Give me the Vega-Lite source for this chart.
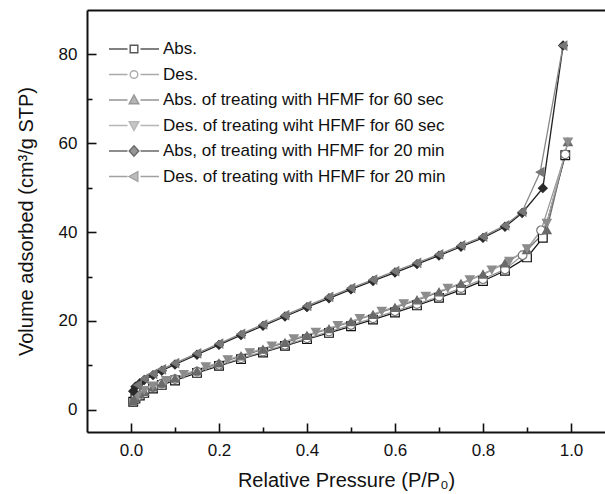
{
  "$schema": "https://vega.github.io/schema/vega-lite/v6.json",
  "width": 518,
  "height": 422,
  "autosize": {"type": "none"},
  "padding": {"left": 87, "top": 10, "right": 0, "bottom": 62},
  "config": {
    "view": {"stroke": null},
    "font": "Liberation Sans",
    "axis": {"domainColor": "#111", "domainWidth": 2, "tickColor": "#111", "tickWidth": 1.6, "labelColor": "#111", "titleColor": "#111", "labelFontSize": 17, "titleFontSize": 20, "titleFontWeight": "normal", "grid": false},
    "legend": {"labelFontSize": 17, "labelColor": "#111", "padding": 0, "labelOffset": 18, "rowPadding": 6.5, "labelLimit": 400}
  },
  "data": {"values": [
    {"s":"Abs.","p":0.005,"v":1.8},{"s":"Abs.","p":0.01,"v":2.5},{"s":"Abs.","p":0.02,"v":3.2},{"s":"Abs.","p":0.03,"v":3.8},{"s":"Abs.","p":0.05,"v":4.8},{"s":"Abs.","p":0.07,"v":5.6},{"s":"Abs.","p":0.1,"v":6.6},{"s":"Abs.","p":0.15,"v":8.3},{"s":"Abs.","p":0.2,"v":9.9},{"s":"Abs.","p":0.25,"v":11.4},{"s":"Abs.","p":0.3,"v":12.9},{"s":"Abs.","p":0.35,"v":14.4},{"s":"Abs.","p":0.4,"v":15.9},{"s":"Abs.","p":0.45,"v":17.3},{"s":"Abs.","p":0.5,"v":18.8},{"s":"Abs.","p":0.55,"v":20.3},{"s":"Abs.","p":0.6,"v":21.9},{"s":"Abs.","p":0.65,"v":23.5},{"s":"Abs.","p":0.7,"v":25.2},{"s":"Abs.","p":0.75,"v":27.0},{"s":"Abs.","p":0.8,"v":29.0},{"s":"Abs.","p":0.85,"v":31.3},{"s":"Abs.","p":0.9,"v":34.3},{"s":"Abs.","p":0.936,"v":38.7},{"s":"Abs.","p":0.987,"v":57.3},
    {"s":"Des.","p":0.987,"v":57.5},{"s":"Des.","p":0.932,"v":40.4},{"s":"Des.","p":0.89,"v":34.8},{"s":"Des.","p":0.85,"v":31.6},{"s":"Des.","p":0.8,"v":29.4},{"s":"Des.","p":0.75,"v":27.4},{"s":"Des.","p":0.7,"v":25.5},{"s":"Des.","p":0.65,"v":23.8},{"s":"Des.","p":0.6,"v":22.2},{"s":"Des.","p":0.55,"v":20.6},{"s":"Des.","p":0.5,"v":19.1},{"s":"Des.","p":0.45,"v":17.6},{"s":"Des.","p":0.4,"v":16.1},{"s":"Des.","p":0.35,"v":14.6},{"s":"Des.","p":0.3,"v":13.1},{"s":"Des.","p":0.25,"v":11.6},{"s":"Des.","p":0.2,"v":10.1},{"s":"Des.","p":0.15,"v":8.6},{"s":"Des.","p":0.1,"v":6.9},{"s":"Des.","p":0.07,"v":5.9},{"s":"Des.","p":0.05,"v":5.1},{"s":"Des.","p":0.03,"v":4.2},{"s":"Des.","p":0.015,"v":3.0},
    {"s":"Abs. of treating with HFMF for 60 sec","p":0.005,"v":2.0},{"s":"Abs. of treating with HFMF for 60 sec","p":0.01,"v":2.7},{"s":"Abs. of treating with HFMF for 60 sec","p":0.02,"v":3.5},{"s":"Abs. of treating with HFMF for 60 sec","p":0.03,"v":4.1},{"s":"Abs. of treating with HFMF for 60 sec","p":0.05,"v":5.1},{"s":"Abs. of treating with HFMF for 60 sec","p":0.07,"v":6.0},{"s":"Abs. of treating with HFMF for 60 sec","p":0.1,"v":7.1},{"s":"Abs. of treating with HFMF for 60 sec","p":0.15,"v":8.8},{"s":"Abs. of treating with HFMF for 60 sec","p":0.2,"v":10.5},{"s":"Abs. of treating with HFMF for 60 sec","p":0.25,"v":12.1},{"s":"Abs. of treating with HFMF for 60 sec","p":0.3,"v":13.6},{"s":"Abs. of treating with HFMF for 60 sec","p":0.35,"v":15.1},{"s":"Abs. of treating with HFMF for 60 sec","p":0.4,"v":16.7},{"s":"Abs. of treating with HFMF for 60 sec","p":0.45,"v":18.2},{"s":"Abs. of treating with HFMF for 60 sec","p":0.5,"v":19.8},{"s":"Abs. of treating with HFMF for 60 sec","p":0.55,"v":21.4},{"s":"Abs. of treating with HFMF for 60 sec","p":0.6,"v":23.0},{"s":"Abs. of treating with HFMF for 60 sec","p":0.65,"v":24.7},{"s":"Abs. of treating with HFMF for 60 sec","p":0.7,"v":26.5},{"s":"Abs. of treating with HFMF for 60 sec","p":0.75,"v":28.4},{"s":"Abs. of treating with HFMF for 60 sec","p":0.8,"v":30.5},{"s":"Abs. of treating with HFMF for 60 sec","p":0.85,"v":33.0},{"s":"Abs. of treating with HFMF for 60 sec","p":0.9,"v":36.0},{"s":"Abs. of treating with HFMF for 60 sec","p":0.945,"v":40.5},{"s":"Abs. of treating with HFMF for 60 sec","p":0.993,"v":60.3},
    {"s":"Des. of treating wiht HFMF for 60 sec","p":0.993,"v":60.3},{"s":"Des. of treating wiht HFMF for 60 sec","p":0.945,"v":42.0},{"s":"Des. of treating wiht HFMF for 60 sec","p":0.9,"v":36.3},{"s":"Des. of treating wiht HFMF for 60 sec","p":0.86,"v":33.5},{"s":"Des. of treating wiht HFMF for 60 sec","p":0.82,"v":31.5},{"s":"Des. of treating wiht HFMF for 60 sec","p":0.77,"v":29.3},{"s":"Des. of treating wiht HFMF for 60 sec","p":0.72,"v":27.4},{"s":"Des. of treating wiht HFMF for 60 sec","p":0.67,"v":25.6},{"s":"Des. of treating wiht HFMF for 60 sec","p":0.62,"v":23.9},{"s":"Des. of treating wiht HFMF for 60 sec","p":0.57,"v":22.2},{"s":"Des. of treating wiht HFMF for 60 sec","p":0.52,"v":20.6},{"s":"Des. of treating wiht HFMF for 60 sec","p":0.47,"v":19.0},{"s":"Des. of treating wiht HFMF for 60 sec","p":0.42,"v":17.5},{"s":"Des. of treating wiht HFMF for 60 sec","p":0.37,"v":16.0},{"s":"Des. of treating wiht HFMF for 60 sec","p":0.32,"v":14.4},{"s":"Des. of treating wiht HFMF for 60 sec","p":0.27,"v":12.9},{"s":"Des. of treating wiht HFMF for 60 sec","p":0.22,"v":11.3},{"s":"Des. of treating wiht HFMF for 60 sec","p":0.17,"v":9.7},{"s":"Des. of treating wiht HFMF for 60 sec","p":0.12,"v":8.0},{"s":"Des. of treating wiht HFMF for 60 sec","p":0.08,"v":6.6},{"s":"Des. of treating wiht HFMF for 60 sec","p":0.05,"v":5.4},{"s":"Des. of treating wiht HFMF for 60 sec","p":0.03,"v":4.4},{"s":"Des. of treating wiht HFMF for 60 sec","p":0.015,"v":3.2},
    {"s":"Abs, of treating with HFMF for 20 min","p":0.005,"v":4.2},{"s":"Abs, of treating with HFMF for 20 min","p":0.01,"v":5.2},{"s":"Abs, of treating with HFMF for 20 min","p":0.02,"v":6.0},{"s":"Abs, of treating with HFMF for 20 min","p":0.03,"v":6.7},{"s":"Abs, of treating with HFMF for 20 min","p":0.05,"v":7.8},{"s":"Abs, of treating with HFMF for 20 min","p":0.07,"v":8.8},{"s":"Abs, of treating with HFMF for 20 min","p":0.1,"v":10.2},{"s":"Abs, of treating with HFMF for 20 min","p":0.15,"v":12.4},{"s":"Abs, of treating with HFMF for 20 min","p":0.2,"v":14.6},{"s":"Abs, of treating with HFMF for 20 min","p":0.25,"v":16.8},{"s":"Abs, of treating with HFMF for 20 min","p":0.3,"v":18.9},{"s":"Abs, of treating with HFMF for 20 min","p":0.35,"v":21.0},{"s":"Abs, of treating with HFMF for 20 min","p":0.4,"v":23.1},{"s":"Abs, of treating with HFMF for 20 min","p":0.45,"v":25.1},{"s":"Abs, of treating with HFMF for 20 min","p":0.5,"v":27.1},{"s":"Abs, of treating with HFMF for 20 min","p":0.55,"v":29.0},{"s":"Abs, of treating with HFMF for 20 min","p":0.6,"v":30.9},{"s":"Abs, of treating with HFMF for 20 min","p":0.65,"v":32.8},{"s":"Abs, of treating with HFMF for 20 min","p":0.7,"v":34.7},{"s":"Abs, of treating with HFMF for 20 min","p":0.75,"v":36.7},{"s":"Abs, of treating with HFMF for 20 min","p":0.8,"v":38.7},{"s":"Abs, of treating with HFMF for 20 min","p":0.85,"v":41.2},{"s":"Abs, of treating with HFMF for 20 min","p":0.889,"v":44.3},{"s":"Abs, of treating with HFMF for 20 min","p":0.936,"v":49.9},{"s":"Abs, of treating with HFMF for 20 min","p":0.982,"v":82},
    {"s":"Des. of treating with HFMF for 20 min","p":0.982,"v":82},{"s":"Des. of treating with HFMF for 20 min","p":0.93,"v":53.5},{"s":"Des. of treating with HFMF for 20 min","p":0.889,"v":44.6},{"s":"Des. of treating with HFMF for 20 min","p":0.85,"v":41.5},{"s":"Des. of treating with HFMF for 20 min","p":0.8,"v":39.0},{"s":"Des. of treating with HFMF for 20 min","p":0.75,"v":37.0},{"s":"Des. of treating with HFMF for 20 min","p":0.7,"v":35.0},{"s":"Des. of treating with HFMF for 20 min","p":0.65,"v":33.1},{"s":"Des. of treating with HFMF for 20 min","p":0.6,"v":31.2},{"s":"Des. of treating with HFMF for 20 min","p":0.55,"v":29.3},{"s":"Des. of treating with HFMF for 20 min","p":0.5,"v":27.4},{"s":"Des. of treating with HFMF for 20 min","p":0.45,"v":25.4},{"s":"Des. of treating with HFMF for 20 min","p":0.4,"v":23.4},{"s":"Des. of treating with HFMF for 20 min","p":0.35,"v":21.3},{"s":"Des. of treating with HFMF for 20 min","p":0.3,"v":19.2},{"s":"Des. of treating with HFMF for 20 min","p":0.25,"v":17.1},{"s":"Des. of treating with HFMF for 20 min","p":0.2,"v":14.9},{"s":"Des. of treating with HFMF for 20 min","p":0.15,"v":12.7},{"s":"Des. of treating with HFMF for 20 min","p":0.1,"v":10.5},{"s":"Des. of treating with HFMF for 20 min","p":0.07,"v":9.1},{"s":"Des. of treating with HFMF for 20 min","p":0.05,"v":8.1},{"s":"Des. of treating with HFMF for 20 min","p":0.03,"v":7.0},{"s":"Des. of treating with HFMF for 20 min","p":0.015,"v":5.6}
  ]},
  "resolve": {
    "axis": {"x": "independent", "y": "independent"},
    "scale": {"shape": "independent", "fill": "independent", "stroke": "independent"},
    "legend": {"shape": "independent", "fill": "independent", "stroke": "independent"}
  },
  "layer": [
    {
      "mark": {"type": "line", "strokeWidth": 1.3},
      "encoding": {
        "x": {"field": "p", "type": "quantitative", "scale": {"domain": [-0.1, 1.0773], "nice": false, "zero": false},
          "axis": {"orient": "bottom", "values": [0, 0.2, 0.4, 0.6, 0.8, 1.0], "format": ".1f", "tickSize": -9, "labelPadding": 19, "title": "Relative Pressure (P/P₀)", "titlePadding": 12}},
        "y": {"field": "v", "type": "quantitative", "scale": {"domain": [-5, 90], "nice": false, "zero": false},
          "axis": {"orient": "left", "values": [0, 20, 40, 60, 80], "tickSize": -9, "labelPadding": 19, "title": "Volume adsorbed (cm³/g STP)", "titlePadding": 22}},
        "stroke": {"field": "s", "type": "nominal", "legend": null,
          "scale": {"domain": ["Abs.", "Des.", "Abs. of treating with HFMF for 60 sec", "Des. of treating wiht HFMF for 60 sec", "Abs, of treating with HFMF for 20 min", "Des. of treating with HFMF for 20 min"],
            "range": ["#1a1a1a", "#9a9a9a", "#707070", "#a8a8a8", "#222222", "#888888"]}},
        "detail": {"field": "s"}
      }
    },
    {
      "mark": {"type": "point", "filled": true, "size": 75, "strokeWidth": 1.2, "opacity": 1},
      "encoding": {
        "x": {"field": "p", "type": "quantitative", "axis": null},
        "y": {"field": "v", "type": "quantitative", "axis": null},
        "shape": {"field": "s", "type": "nominal", "legend": null,
          "scale": {"domain": ["Abs.", "Des.", "Abs. of treating with HFMF for 60 sec", "Des. of treating wiht HFMF for 60 sec", "Abs, of treating with HFMF for 20 min", "Des. of treating with HFMF for 20 min"],
            "range": ["square", "circle", "triangle-up", "triangle-down", "diamond", "triangle-left"]}},
        "fill": {"field": "s", "type": "nominal", "legend": null,
          "scale": {"domain": ["Abs.", "Des.", "Abs. of treating with HFMF for 60 sec", "Des. of treating wiht HFMF for 60 sec", "Abs, of treating with HFMF for 20 min", "Des. of treating with HFMF for 20 min"],
            "range": ["#ffffff", "#ffffff", "#6a6a6a", "#8c8c8c", "#2a2a2a", "#777777"]}},
        "stroke": {"field": "s", "type": "nominal", "legend": null,
          "scale": {"domain": ["Abs.", "Des.", "Abs. of treating with HFMF for 60 sec", "Des. of treating wiht HFMF for 60 sec", "Abs, of treating with HFMF for 20 min", "Des. of treating with HFMF for 20 min"],
            "range": ["#111111", "#777777", "#6a6a6a", "#8c8c8c", "#2a2a2a", "#777777"]}}
      }
    },
    {
      "mark": {"type": "point", "opacity": 0},
      "encoding": {
        "x": {"field": "p", "type": "quantitative", "axis": {"orient": "bottom", "values": [0.1, 0.3, 0.5, 0.7, 0.9], "labels": false, "domain": false, "tickSize": -5, "title": null}},
        "y": {"field": "v", "type": "quantitative", "axis": {"orient": "left", "values": [10, 30, 50, 70], "labels": false, "domain": false, "tickSize": -5, "title": null}}
      }
    },
    {
      "mark": {"type": "point", "opacity": 0},
      "encoding": {
        "x": {"field": "p", "type": "quantitative", "axis": {"orient": "top", "labels": false, "ticks": false, "domain": true, "title": null}},
        "y": {"field": "v", "type": "quantitative", "axis": null}
      }
    },
    {
      "transform": [{"filter": "datum.v < -100"}],
      "mark": {"type": "point", "filled": true, "strokeWidth": 1.4},
      "encoding": {
        "x": {"field": "p", "type": "quantitative", "axis": null},
        "y": {"field": "v", "type": "quantitative", "axis": null},
        "shape": {"field": "s", "type": "nominal",
          "legend": {"orient": "none", "legendX": 36, "legendY": 28, "title": null, "symbolSize": 400, "symbolStrokeWidth": 1.4},
          "scale": {"domain": ["Abs.", "Des.", "Abs. of treating with HFMF for 60 sec", "Des. of treating wiht HFMF for 60 sec", "Abs, of treating with HFMF for 20 min", "Des. of treating with HFMF for 20 min"],
            "range": [
              "M-2.5,0H-0.65M0.65,0H2.5M-0.38,-0.38H0.38V0.38H-0.38Z",
              "M-2.5,0H-0.65M0.65,0H2.5M0.38,0A0.38,0.38,0,1,1,-0.38,0A0.38,0.38,0,1,1,0.38,0Z",
              "M-2.5,0H-0.65M0.65,0H2.5M0,-0.5L0.48,0.38L-0.48,0.38Z",
              "M-2.5,0H-0.65M0.65,0H2.5M0,0.5L0.48,-0.38L-0.48,-0.38Z",
              "M-2.5,0H-0.65M0.65,0H2.5M0,-0.52L0.48,0L0,0.52L-0.48,0Z",
              "M-2.5,0H-0.65M0.65,0H2.5M-0.5,0L0.38,-0.48L0.38,0.48Z"
            ]}},
        "fill": {"field": "s", "type": "nominal",
          "legend": {"orient": "none", "legendX": 36, "legendY": 28, "title": null, "symbolSize": 400},
          "scale": {"domain": ["Abs.", "Des.", "Abs. of treating with HFMF for 60 sec", "Des. of treating wiht HFMF for 60 sec", "Abs, of treating with HFMF for 20 min", "Des. of treating with HFMF for 20 min"],
            "range": ["#ffffff", "#ffffff", "#6a6a6a", "#8c8c8c", "#2a2a2a", "#777777"]}},
        "stroke": {"field": "s", "type": "nominal",
          "legend": {"orient": "none", "legendX": 36, "legendY": 28, "title": null, "symbolSize": 400},
          "scale": {"domain": ["Abs.", "Des.", "Abs. of treating with HFMF for 60 sec", "Des. of treating wiht HFMF for 60 sec", "Abs, of treating with HFMF for 20 min", "Des. of treating with HFMF for 20 min"],
            "range": ["#111111", "#888888", "#6a6a6a", "#999999", "#2a2a2a", "#7a7a7a"]}}
      }
    }
  ]
}
